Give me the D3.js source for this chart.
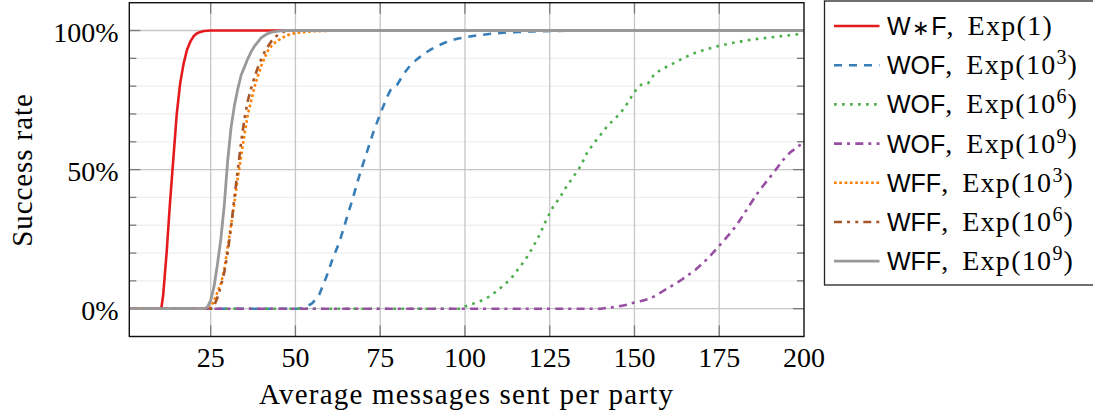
<!DOCTYPE html>
<meta charset="utf-8">
<title>Success rate vs messages</title>
<script src="https://d3js.org/d3.v7.min.js"></script>
<style>
  body { margin: 0; background: #fff; }
  svg { display: block; }
</style>
<body>
<svg width="1093" height="417"></svg>
<script>

  // values, y in percent
  const
    wsfExp1 = [[1,0],[10,0],[10.5,0.5],[11,5],[12,20],[13,38],[14,54],[15,70],[16,81],[17,88],[18,93],[19,96],
      [20,98],[21,99],[22,99.5],[23,99.8],[25,100],[200,100]],
    wofExp3 = [[1,0],[51,0],[53,0.5],[55,2],[57,5],[59,11],[61,18],[63,24],[65,32],[67,40],[69,48.5],[71,56],
      [73,63.5],[75,70],[77,76],[78,78.5],[80,80.5],[82,84.5],[84,87.7],[86,89.8],[88,91.7],[90,93.2],[92,94.5],
      [94,95.6],[96,96.5],[98,97.1],[100,97.6],[104,98.3],[108,98.9],[112,99.3],[116,99.5],[120,99.7],[130,99.9],
      [140,100],[200,100]],
    wofExp6 = [[1,0],[99,0],[100,0.8],[102,1.6],[104,2.5],[106,3.5],[108,5],[110,7],[112,9],[114,11.5],[116,14.7],
      [118,18],[120,22],[122,26.5],[124,32],[126,36.6],[128,40],[130,44],[132,47.5],[134,51],[136,56],[138,59.5],
      [140,62.5],[142,65.7],[144,68],[146,70.5],[148,74],[150,78],[152,80.5],[154,81],[156,84.5],[158,86],
      [160,87.3],[162,88.5],[164,89.8],[166,91],[168,92],[170,92.8],[172,93.5],[175,94.5],[178,95.3],[181,96],
      [185,96.8],[190,97.5],[195,98.2],[200,98.9]],
    wofExp9 = [[1,0],[140,0],[142,0.3],[144,0.6],[146,1],[148,1.5],[150,2.2],[152,2.8],[154,3.4],[156,4.5],
      [158,6],[160,7.5],[162,8.9],[164,10.5],[166,12.2],[168,14],[170,16.2],[172,18.5],[174,21.3],[176,24],
      [178,26.8],[180,29.8],[182,33.5],[184,37.3],[186,41],[188,44.3],[190,47.3],[192,50.5],[194,53.7],
      [196,56.3],[198,58],[200,60]],
    wffExp3 = [[1,0],[24,0],[25,0.5],[26,3],[27,6],[28,9],[29,14],[30,22],[31,30],[32,38],[33,47],[34,55],
      [35,63],[36,70],[37,75],[38,80],[39,84],[40,87.5],[41,90.5],[42,93],[43,94.5],[44,95.7],[45,96.5],
      [46,97.3],[47,98],[48,98.5],[49,98.8],[50,99.1],[52,99.4],[55,99.7],[60,99.9],[65,100],[200,100]],
    wffExp6 = [[1,0],[25,0],[26,1],[27,4],[28,8],[29,13],[30,20],[31,29],[32,40],[33,50],[34,60],[35,68.5],
      [36,75],[37,79.5],[38,83.5],[39,87],[40,90],[41,92.5],[42,94.5],[43,96.3],[44,97.6],[45,98.6],[46,99.3],
      [47,99.8],[48,100],[200,100]],
    wffExp9 = [[1,0],[23,0],[24,0.5],[25,3],[26,8],[27,16],[28,25],[29,37],[30,53],[31,65],[32,73],[33,79],
      [34,84],[35,87],[36,90],[37,92.5],[38,94.5],[39,96],[40,97.5],[41,98.3],[42,99],[43,99.4],[44,99.6],
      [45,99.8],[47,100],[200,100]]

  const
    xTicks = [25, 50, 75, 100, 125, 150, 175, 200],
    yMajor = [0, 50, 100],
    yMinor = [-10, 10, 20, 30, 40, 60, 70, 80, 90, 110]

  // name is split around the star so the star can be set smaller
  const series = [
    { name: ['W', '∗', 'F'], exp: '1', sup: null, data: wsfExp1, color: '#e41a1c', dash: null },
    { name: ['WOF'], exp: '10', sup: '3', data: wofExp3, color: '#377eb8', dash: '8,7' },
    { name: ['WOF'], exp: '10', sup: '6', data: wofExp6, color: '#4daf4a', dash: '2.7,5.3' },
    { name: ['WOF'], exp: '10', sup: '9', data: wofExp9, color: '#984ea3', dash: '8,5,3,5.3' },
    { name: ['WFF'], exp: '10', sup: '3', data: wffExp3, color: '#ff7f00', dash: '2.7,2.6' },
    { name: ['WFF'], exp: '10', sup: '6', data: wffExp6, color: '#a65628', dash: '8,5,3,5.3,3,5' },
    { name: ['WFF'], exp: '10', sup: '9', data: wffExp9, color: '#999999', dash: null }
  ]

  const
    pLeft = 129.3, pRight = 804, pTop = 2.7, pBottom = 336.5,
    serif = '"Liberation Serif", "DejaVu Serif", serif',
    sans = '"Liberation Sans", Arial, sans-serif'

  const x = d3.scaleLinear().domain([1, 200]).range([pLeft, pRight]),
        y = d3.scaleLinear().domain([-10, 110]).range([pBottom, pTop])

  const svg = d3.select('svg')

  svg.append('clipPath').attr('id', 'plot')
    .append('rect')
    .attr('x', pLeft).attr('y', pTop)
    .attr('width', pRight - pLeft).attr('height', pBottom - pTop)

  // grid
  const grid = svg.append('g')
  grid.append('g').selectAll('line').data(yMinor).join('line')
    .attr('x1', pLeft).attr('x2', pRight)
    .attr('y1', d => y(d)).attr('y2', d => y(d))
    .attr('stroke', '#efefef').attr('stroke-width', 1.3)
  grid.append('g').selectAll('line').data(yMajor).join('line')
    .attr('x1', pLeft).attr('x2', pRight)
    .attr('y1', d => y(d)).attr('y2', d => y(d))
    .attr('stroke', '#c6c6c6').attr('stroke-width', 1.3)
  grid.append('g').selectAll('line').data(xTicks.slice(0, -1)).join('line')
    .attr('x1', d => x(d)).attr('x2', d => x(d))
    .attr('y1', pTop).attr('y2', pBottom)
    .attr('stroke', '#c6c6c6').attr('stroke-width', 1.3)

  // tick marks, pointing inwards on all sides
  const ticks = svg.append('g').attr('stroke', '#7a7a7a').attr('stroke-width', 1.3)
  xTicks.slice(0, -1).forEach(d => {
    ticks.append('line').attr('x1', x(d)).attr('x2', x(d)).attr('y1', pTop).attr('y2', pTop + 11)
    ticks.append('line').attr('x1', x(d)).attr('x2', x(d)).attr('y1', pBottom).attr('y2', pBottom - 11)
  })
  yMajor.forEach(d => {
    ticks.append('line').attr('x1', pLeft).attr('x2', pLeft + 11).attr('y1', y(d)).attr('y2', y(d))
    ticks.append('line').attr('x1', pRight).attr('x2', pRight - 11).attr('y1', y(d)).attr('y2', y(d))
  })
  yMinor.filter(d => d > -10 && d < 110).forEach(d => {
    ticks.append('line').attr('x1', pLeft).attr('x2', pLeft + 7).attr('y1', y(d)).attr('y2', y(d))
    ticks.append('line').attr('x1', pRight).attr('x2', pRight - 7).attr('y1', y(d)).attr('y2', y(d))
  })

  // curves
  const line = d3.line().x(d => x(d[0])).y(d => y(d[1]))
  svg.append('g').attr('clip-path', 'url(#plot)')
    .selectAll('path').data(series).join('path')
    .attr('d', d => line(d.data))
    .attr('fill', 'none')
    .attr('stroke', d => d.color)
    .attr('stroke-width', d => d.color === '#999999' ? 2.8 : 2.6)
    .attr('stroke-dasharray', d => d.dash)
    .attr('stroke-linejoin', 'round')

  // frame
  svg.append('rect')
    .attr('x', pLeft).attr('y', pTop)
    .attr('width', pRight - pLeft).attr('height', pBottom - pTop)
    .attr('fill', 'none').attr('stroke', '#111').attr('stroke-width', 1.4)

  // tick labels
  svg.append('g').selectAll('text').data(xTicks).join('text')
    .attr('x', d => x(d)).attr('y', 366.5)
    .attr('text-anchor', 'middle')
    .attr('font-family', serif).attr('font-size', 28)
    .text(d => d)
  svg.append('g').selectAll('text').data(yMajor).join('text')
    .attr('x', 118.5).attr('y', d => y(d) + 11)
    .attr('text-anchor', 'end')
    .attr('font-family', serif).attr('font-size', 28)
    .text(d => d + '%')

  // axis titles
  svg.append('text')
    .attr('x', (pLeft + pRight) / 2).attr('y', 404)
    .attr('text-anchor', 'middle')
    .attr('font-family', serif).attr('font-size', 29)
    .attr('letter-spacing', 1.2)
    .text('Average messages sent per party')
  svg.append('text')
    .attr('transform', 'translate(32,170) rotate(-90)')
    .attr('text-anchor', 'middle')
    .attr('font-family', serif).attr('font-size', 29)
    .attr('letter-spacing', 0.9)
    .text('Success rate')

  // legend
  const lg = svg.append('g')
  lg.append('rect')
    .attr('x', 824.5).attr('y', 1)
    .attr('width', 270).attr('height', 284)
    .attr('fill', '#fff').attr('stroke', '#222').attr('stroke-width', 1.3)

  const rowY = i => 35 + i * 39.2
  series.forEach((s, i) => {
    lg.append('line')
      .attr('x1', 834).attr('x2', 879.5)
      .attr('y1', rowY(i) - 9).attr('y2', rowY(i) - 9)
      .attr('stroke', s.color)
      .attr('stroke-width', s.color === '#999999' ? 2.8 : 2.6)
      .attr('stroke-dasharray', s.dash)
    const t = lg.append('text').attr('x', 887).attr('y', rowY(i))
    if (s.name.length === 3) {
      t.append('tspan').attr('font-family', sans).attr('font-size', 25).text(s.name[0])
      t.append('tspan').attr('font-family', '"DejaVu Sans", sans-serif').attr('font-size', 21)
        .attr('dx', 1.5).text(s.name[1])
      t.append('tspan').attr('font-family', sans).attr('font-size', 25).attr('dx', 1.5).text(s.name[2])
    } else {
      t.append('tspan').attr('font-family', sans).attr('font-size', 25).text(s.name[0])
    }
    t.append('tspan').attr('font-family', serif).attr('font-size', 28).text(',')
    t.append('tspan').attr('font-family', serif).attr('font-size', 28).attr('dx', 14)
      .attr('letter-spacing', 1.3).text('Exp(' + s.exp)
    if (s.sup) {
      t.append('tspan').attr('font-family', serif).attr('font-size', 20).attr('dy', -10).text(s.sup)
      t.append('tspan').attr('font-family', serif).attr('font-size', 28).attr('dy', 10).attr('dx', 1).text(')')
    } else {
      t.append('tspan').attr('font-family', serif).attr('font-size', 28).text(')')
    }
  })

</script>
</body>
